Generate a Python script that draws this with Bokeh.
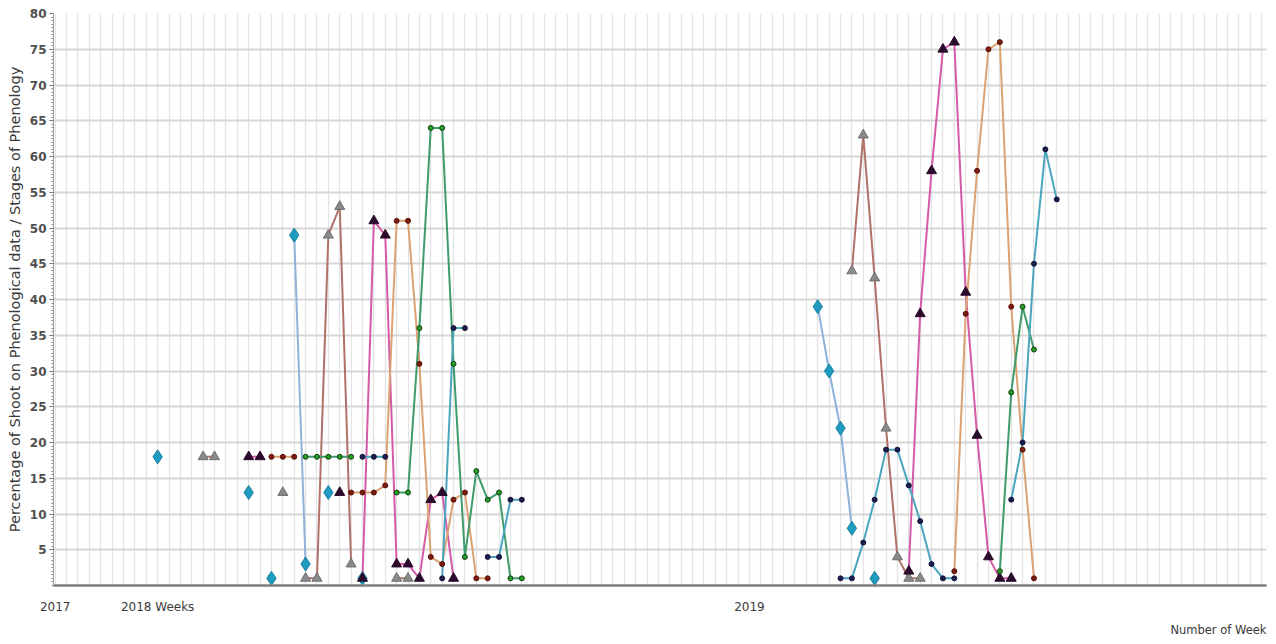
import math
from bokeh.plotting import figure
from bokeh.models import Range1d, FixedTicker, Title
from bokeh.embed import file_html
from bokeh.resources import INLINE

# ---------------- data (week index, values) ----------------
# each series: list of (first_week, [consecutive weekly values]) segments
diamond_series = [(9, [18]), (17, [13]), (19, [1]), (21, [49, 3]), (24, [13]), (27, [1]),
                  (67, [39, 30, 22, 8]), (72, [1])]
brown_series = [(13, [18, 18]), (20, [13]), (22, [1, 1, 49, 53, 3]), (30, [1, 1]),
                (70, [44, 63, 43, 22, 4, 1, 1])]
pink_series = [(17, [18, 18]), (25, [13]), (27, [1, 51, 49, 3, 3, 1, 12, 13, 1]),
               (75, [2, 38, 58, 75, 76, 41, 21, 4, 1, 1])]
orange_series = [(19, [18, 18, 18]), (26, [13, 13, 13, 14, 51, 51, 31, 4, 3, 12, 13, 1, 1]),
                 (79, [2, 38, 58, 75, 76, 39, 19, 1])]
green_series = [(22, [18, 18, 18, 18, 18]), (30, [13, 13, 36, 64, 64, 31, 4, 16, 12, 13, 1, 1]),
                (83, [2, 27, 39, 33])]
teal_series = [(27, [18, 18, 18]), (34, [1, 36, 36]), (38, [4, 4, 12, 12]),
               (69, [1, 1, 6, 12, 19, 19, 14, 9, 3, 1, 1]), (84, [12, 20, 45, 61, 54])]

x_tick_positions = [0, 9, 61]
x_tick_labels = ["2017", "2018 Weeks", "2019"]
y_ticks = list(range(5, 81, 5))
n_weeks = 106


def flatten(segments):
    xs, ys = [], []
    for start, vals in segments:
        if xs:
            xs.append(math.nan)
            ys.append(math.nan)
        for i, v in enumerate(vals):
            xs.append(start + i)
            ys.append(v)
    return xs, ys


p = figure(width=1268, height=641, x_range=Range1d(-0.15, 106.43), y_range=Range1d(0, 80),
           output_backend="svg", toolbar_location=None,
           min_border_left=53, min_border_right=2, min_border_top=13, min_border_bottom=54)
p.outline_line_color = None
p.background_fill_color = "white"
p.border_fill_color = "white"

# grids
p.xgrid.ticker = FixedTicker(ticks=list(range(0, n_weeks + 1)))
p.xgrid.grid_line_color = "#e3e3e3"
p.xgrid.grid_line_width = 1.3
p.ygrid.grid_line_color = "#d6d6d6"
p.ygrid.grid_line_width = 2

# x axis
p.xaxis.ticker = FixedTicker(ticks=x_tick_positions)
p.xaxis.major_label_overrides = {k: v for k, v in zip(x_tick_positions, x_tick_labels)}
p.xaxis.major_tick_line_color = None
p.xaxis.minor_tick_line_color = None
p.xaxis.axis_line_color = "#7d7d7d"
p.xaxis.axis_line_width = 2.5
p.xaxis.major_label_standoff = 8
p.xaxis.major_label_text_font = "DejaVu Sans"
p.xaxis.major_label_text_font_size = "12px"
p.xaxis.major_label_text_color = "#3a3a3a"

# y axis
p.yaxis.ticker = FixedTicker(ticks=y_ticks, minor_ticks=[i * 0.5 for i in range(0, 161)])
p.yaxis.axis_line_color = "#9a9a9a"
p.yaxis.major_tick_line_color = "#666666"
p.yaxis.major_tick_out = 4
p.yaxis.major_tick_in = 0
p.yaxis.minor_tick_line_color = "#8a8a8a"
p.yaxis.minor_tick_out = 2
p.yaxis.minor_tick_in = 0
p.yaxis.major_label_standoff = 3
p.yaxis.major_label_text_font = "DejaVu Sans"
p.yaxis.major_label_text_font_size = "12px"
p.yaxis.major_label_text_font_style = "bold"
p.yaxis.major_label_text_color = "#505050"
p.yaxis.axis_label = "Percentage of Shoot on Phenological data / Stages of Phenology"
p.yaxis.axis_label_text_font = "DejaVu Sans"
p.yaxis.axis_label_text_font_size = "14.5px"
p.yaxis.axis_label_text_font_style = "normal"
p.yaxis.axis_label_text_color = "#3a3a3a"
p.yaxis.axis_label_standoff = 4

p.add_layout(Title(text="Number of Week", align="right", text_font="DejaVu Sans",
                   text_font_size="11.5px", text_font_style="normal",
                   text_color="#3a3a3a", standoff=9), "below")

styles = [
    (diamond_series, "#8fb2da", dict(marker="diamond", size=14, fill_color="#1f9cc0", line_color="#167f9c")),
    (brown_series, "#b07268", dict(marker="triangle", size=10, fill_color="#8a8a8a", line_color="#6e6e6e")),
    (pink_series, "#d65aa6", dict(marker="triangle", size=10, fill_color="#2a0b2c", line_color="#2a0b2c")),
    (orange_series, "#dba273", dict(marker="circle", size=5, fill_color="#7a1c10", line_color="#5a1008")),
    (green_series, "#3f9b6c", dict(marker="circle", size=5, fill_color="#22a022", line_color="#1a3a1a")),
    (teal_series, "#4aa5bd", dict(marker="circle", size=5, fill_color="#1c1c50", line_color="#141438")),
]

for segs, lc, _ in styles:
    xs, ys = flatten(segs)
    p.line(xs, ys, line_color=lc, line_width=2)
for segs, _, mk in styles:
    xs, ys = flatten(segs)
    p.scatter(xs, ys, **mk)

open("out.html", "w").write(file_html(p, INLINE))
